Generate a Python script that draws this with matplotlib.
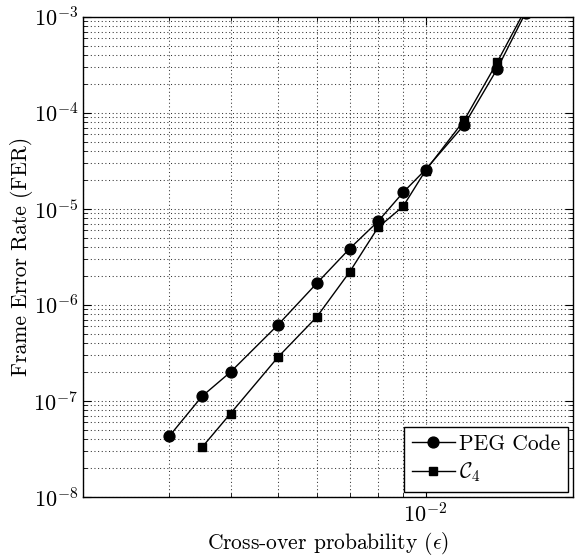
import matplotlib
matplotlib.use("Agg")
import matplotlib.pyplot as plt
from matplotlib.ticker import LogLocator, NullFormatter

# Frame error rate vs BSC cross-over probability
peg_eps = [3e-3, 3.5e-3, 4e-3, 5e-3, 6e-3, 7e-3, 8e-3, 9e-3, 1e-2, 1.2e-2, 1.4e-2, 1.6e-2]
peg_fer = [4.3e-8, 1.12e-7, 2.0e-7, 6.2e-7, 1.68e-6, 3.85e-6, 7.4e-6, 1.48e-5,
           2.56e-5, 7.5e-5, 2.85e-4, 1.1e-3]

c4_eps = [3.5e-3, 4e-3, 5e-3, 6e-3, 7e-3, 8e-3, 9e-3, 1e-2, 1.2e-2, 1.4e-2, 1.6e-2]
c4_fer = [3.3e-8, 7.4e-8, 2.86e-7, 7.5e-7, 2.2e-6, 6.4e-6, 1.06e-5,
          2.5e-5, 8.4e-5, 3.35e-4, 1.2e-3]

plt.rcParams['font.family'] = 'serif'
plt.rcParams['font.serif'] = ['cmr10', 'DejaVu Serif']
plt.rcParams['mathtext.fontset'] = 'cm'
plt.rcParams['axes.formatter.use_mathtext'] = True
plt.rcParams['axes.unicode_minus'] = True

fig = plt.figure(figsize=(5.83, 5.58), dpi=100)
ax = fig.add_axes([0.1424, 0.1093, 0.8405, 0.8608])

ax.loglog(peg_eps, peg_fer, '-o', color='black', lw=1.0, ms=7.8, label='PEG Code')
ax.loglog(c4_eps, c4_fer, '-s', color='black', lw=1.0, ms=6.3, label=r'$\mathcal{C}_4$')

ax.set_xlim(2e-3, 2e-2)
ax.set_ylim(1e-8, 1e-3)

ax.xaxis.set_major_locator(LogLocator(base=10))
ax.xaxis.set_minor_locator(LogLocator(base=10, subs=range(2, 10)))
ax.xaxis.set_minor_formatter(NullFormatter())
ax.yaxis.set_major_locator(LogLocator(base=10, numticks=10))
ax.yaxis.set_minor_locator(LogLocator(base=10, subs=range(2, 10), numticks=10))
ax.yaxis.set_minor_formatter(NullFormatter())

# MATLAB-like sparse dotted grid
ax.grid(True, which='both', linestyle=(0, (1, 2.5)), color='0.2', linewidth=0.75)
ax.tick_params(which='both', direction='in', top=True, right=True, labelsize=16)
ax.tick_params(which='major', length=6)
ax.tick_params(which='minor', length=3)
for s in ax.spines.values():
    s.set_linewidth(1.0)

ax.set_xlabel(r'Cross-over probability ($\epsilon$)', fontsize=15.5, labelpad=3)
ax.set_ylabel('Frame Error Rate (FER)', fontsize=15.5, labelpad=0)

leg = ax.legend(loc='lower right', fontsize=15.5, fancybox=False, framealpha=1,
                edgecolor='black', borderaxespad=0.25, handlelength=2.0,
                labelspacing=0.3, borderpad=0.35, handletextpad=0.2)
leg.get_frame().set_linewidth(1.0)

fig.savefig('out.png', dpi=100)
